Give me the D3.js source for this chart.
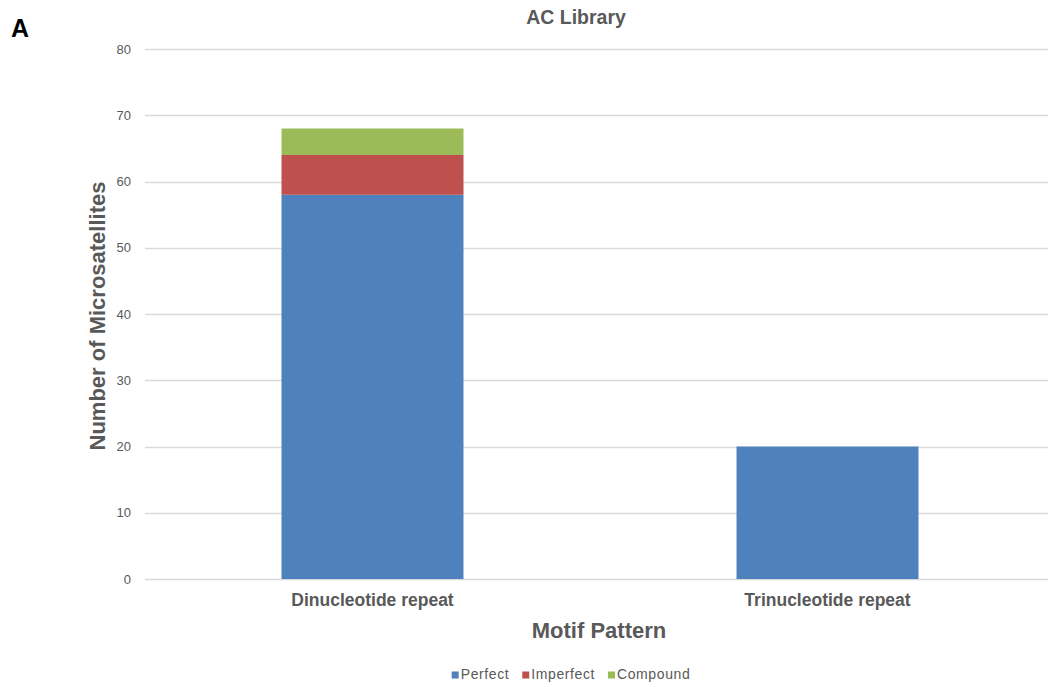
<!DOCTYPE html>
<html><head><meta charset="utf-8">
<script src="https://cdn.jsdelivr.net/npm/d3@7"></script>
<style>body{margin:0;background:#fff;}svg{display:block;font-family:"Liberation Sans",Arial,sans-serif;}</style>
</head><body>
<svg id="c" width="1048" height="687"></svg>
<script>
const categories = ["Dinucleotide repeat", "Trinucleotide repeat"];
const seriesNames = ["Perfect", "Imperfect", "Compound"];
const perfect = [58, 20];
const imperfect = [6, 0];
const compound = [4, 0];
const yTicks = [0, 10, 20, 30, 40, 50, 60, 70, 80];
const colors = ["#4F81BD", "#C0504D", "#9BBB59"];

const svg = d3.select("#c");
const rows = categories.map((c, i) => ({cat: c, Perfect: perfect[i], Imperfect: imperfect[i], Compound: compound[i]}));
const stack = d3.stack().keys(seriesNames)(rows);

const x = d3.scaleBand().domain(categories).range([145, 1055]).paddingInner(0.6).paddingOuter(0.3);
const y = d3.scaleLinear().domain([0, 80]).range([579, 49]);

// gridlines
svg.append("g").selectAll("line").data(yTicks).join("line")
  .attr("x1", 145).attr("x2", 1048)
  .attr("y1", d => Math.round(y(d)) + 0.5).attr("y2", d => Math.round(y(d)) + 0.5)
  .attr("stroke", "#d9d9d9").attr("stroke-width", 1.5);

// y tick labels
const yAxis = svg.append("g").attr("transform", "translate(145,0)")
  .call(d3.axisLeft(y).tickValues(yTicks).tickSize(0).tickPadding(14));
yAxis.select(".domain").remove();
yAxis.selectAll("text").attr("fill", "#595959").attr("font-size", 13).attr("font-family", "Liberation Sans, Arial, sans-serif");

// bars
svg.append("g").selectAll("g").data(stack).join("g")
  .attr("fill", (d, i) => colors[i])
  .selectAll("rect").data(d => d).join("rect")
  .attr("x", d => x(d.data.cat))
  .attr("width", x.bandwidth())
  .attr("y", d => y(d[1]))
  .attr("height", d => y(d[0]) - y(d[1]));

// x labels
const xAxis = svg.append("g").attr("transform", "translate(0,579)")
  .call(d3.axisBottom(x).tickSize(0).tickPadding(15));
xAxis.select(".domain").remove();
xAxis.selectAll("text").attr("fill", "#595959").attr("font-size", 17.5).attr("font-weight", "bold").attr("font-family", "Liberation Sans, Arial, sans-serif");

// titles
svg.append("text").attr("x", 576).attr("y", 24).attr("text-anchor", "middle")
  .attr("font-size", 19.5).attr("font-weight", "bold").attr("fill", "#595959").text("AC Library");
svg.append("text").attr("x", 11).attr("y", 37)
  .attr("font-size", 25).attr("font-weight", "bold").attr("fill", "#000").text("A");
svg.append("text").attr("transform", "translate(105,316) rotate(-90)").attr("text-anchor", "middle")
  .attr("font-size", 22).attr("font-weight", "bold").attr("fill", "#595959").text("Number of Microsatellites");
svg.append("text").attr("x", 599).attr("y", 638).attr("text-anchor", "middle")
  .attr("font-size", 22).attr("font-weight", "bold").attr("fill", "#595959").text("Motif Pattern");

// legend
const legend = svg.append("g");
const items = legend.selectAll("g").data(seriesNames).join("g");
items.append("rect").attr("width", 7).attr("height", 7).attr("y", -7.5).attr("fill", (d, i) => colors[i]);
items.append("text").attr("x", 9).attr("font-size", 14).attr("letter-spacing", 0.6).attr("fill", "#595959").text(d => d);
let lx = 0;
items.each(function() {
  d3.select(this).attr("transform", `translate(${lx},0)`);
  lx += this.getBBox().width + 13;
});
legend.attr("transform", `translate(${571 - (lx - 13) / 2},679)`);
</script>
</body></html>
